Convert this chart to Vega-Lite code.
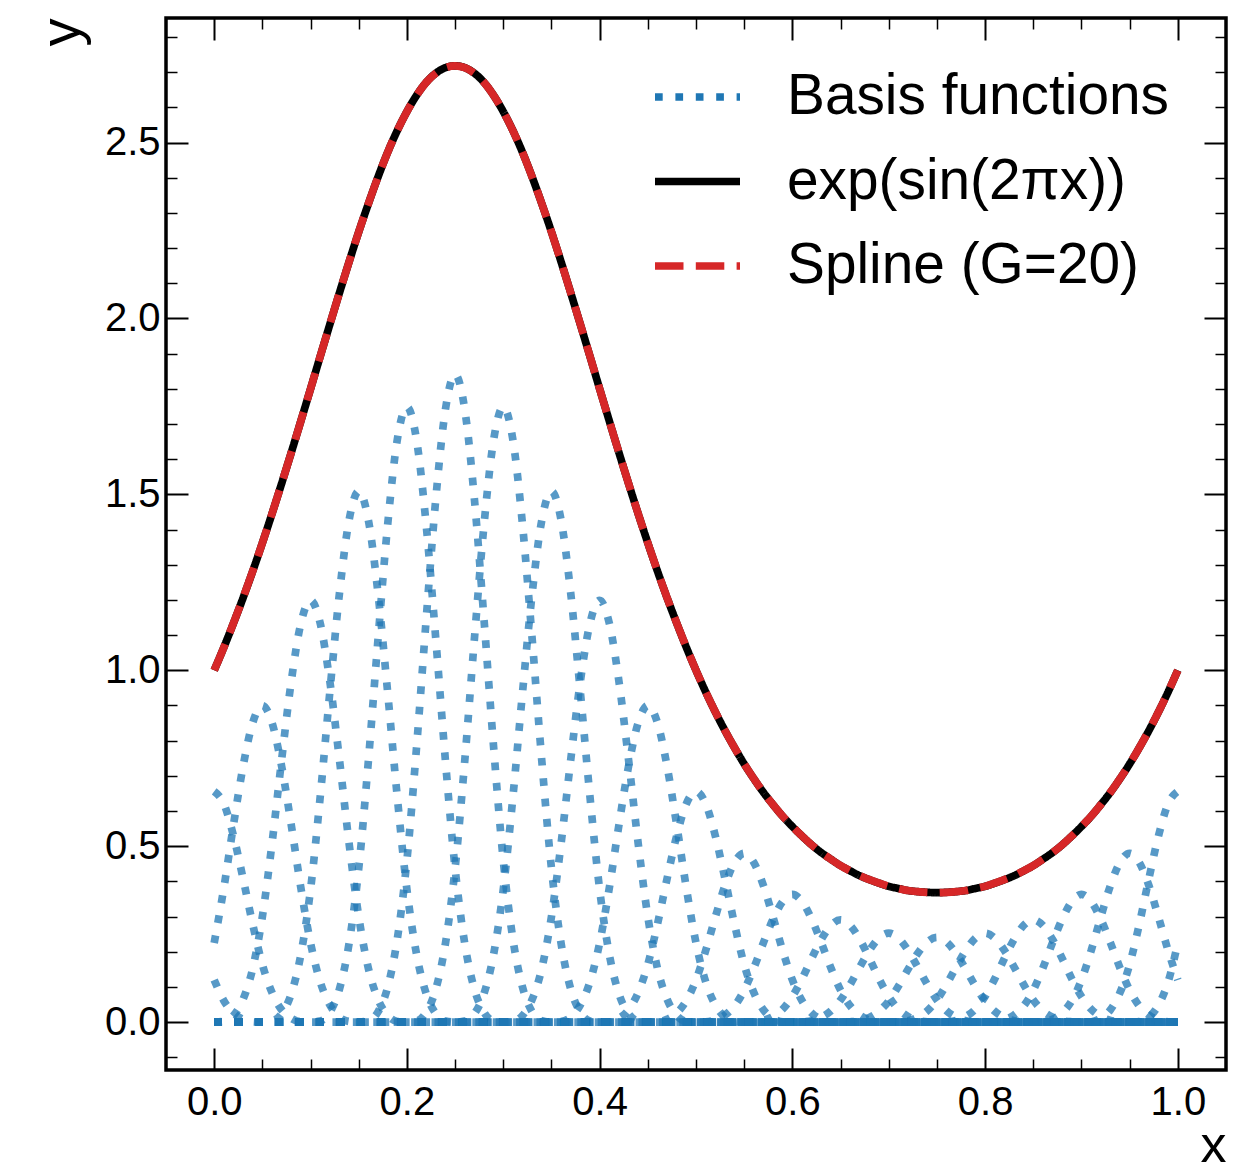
{
"$schema": "https://vega.github.io/schema/vega-lite/v6.json",
"width": 1060, "height": 1052,
"autosize": {"type": "none"},
"padding": {"left": 166, "top": 18, "right": 30, "bottom": 104},
"background": "white",
"config": {
  "font": "Liberation Sans",
  "view": {"stroke": "black", "strokeWidth": 3.5},
  "axis": {"grid": false, "domain": false, "tickColor": "black", "labelColor": "black", "titleColor": "black", "labelFont": "Liberation Sans", "titleFont": "Liberation Sans", "titleFontWeight": "normal", "labelFontSize": 40, "titleFontSize": 56, "labelFlush": false, "labelOverlap": false},
  "legend": {"labelFont": "Liberation Sans", "labelFontSize": 56.8, "labelColor": "black", "labelLimit": 0, "symbolSize": 7225, "symbolStrokeWidth": 7.7, "symbolType": "stroke", "labelOffset": 43, "rowPadding": 8.5, "padding": 0, "symbolOffset": 0}
},
"datasets": {
"basis": [
{"b":-1,"x":0,"y":0.120},{"b":-1,"x":0.01,"y":0.061},{"b":-1,"x":0.02,"y":0.026},{"b":-1,"x":0.03,"y":0.008},{"b":-1,"x":0.04,"y":0.001},{"b":-1,"x":0.05,"y":0},{"b":-1,"x":1,"y":0},
{"b":0,"x":0,"y":0.656},{"b":0,"x":0.01,"y":0.621},{"b":0,"x":0.02,"y":0.530},{"b":0,"x":0.03,"y":0.408},{"b":0,"x":0.04,"y":0.278},{"b":0,"x":0.05,"y":0.164},{"b":0,"x":0.06,"y":0.084},{"b":0,"x":0.07,"y":0.035},{"b":0,"x":0.08,"y":0.011},{"b":0,"x":0.09,"y":0.001},{"b":0,"x":0.1,"y":0},{"b":0,"x":1,"y":0},
{"b":1,"x":0,"y":0.225},{"b":1,"x":0.01,"y":0.381},{"b":1,"x":0.02,"y":0.560},{"b":1,"x":0.03,"y":0.727},{"b":1,"x":0.04,"y":0.851},{"b":1,"x":0.05,"y":0.900},{"b":1,"x":0.06,"y":0.851},{"b":1,"x":0.07,"y":0.727},{"b":1,"x":0.08,"y":0.560},{"b":1,"x":0.09,"y":0.381},{"b":1,"x":0.1,"y":0.225},{"b":1,"x":0.11,"y":0.115},{"b":1,"x":0.12,"y":0.049},{"b":1,"x":0.13,"y":0.014},{"b":1,"x":0.14,"y":0.002},{"b":1,"x":0.15,"y":0},{"b":1,"x":1,"y":0},
{"b":2,"x":0,"y":0},{"b":2,"x":0.01,"y":0.002},{"b":2,"x":0.02,"y":0.019},{"b":2,"x":0.03,"y":0.065},{"b":2,"x":0.04,"y":0.153},{"b":2,"x":0.05,"y":0.300},{"b":2,"x":0.06,"y":0.508},{"b":2,"x":0.07,"y":0.746},{"b":2,"x":0.08,"y":0.969},{"b":2,"x":0.09,"y":1.134},{"b":2,"x":0.1,"y":1.199},{"b":2,"x":0.11,"y":1.134},{"b":2,"x":0.12,"y":0.969},{"b":2,"x":0.13,"y":0.746},{"b":2,"x":0.14,"y":0.508},{"b":2,"x":0.15,"y":0.300},{"b":2,"x":0.16,"y":0.153},{"b":2,"x":0.17,"y":0.065},{"b":2,"x":0.18,"y":0.019},{"b":2,"x":0.19,"y":0.002},{"b":2,"x":0.2,"y":0},{"b":2,"x":1,"y":0},
{"b":3,"x":0,"y":0},{"b":3,"x":0.05,"y":0},{"b":3,"x":0.06,"y":0.003},{"b":3,"x":0.07,"y":0.024},{"b":3,"x":0.08,"y":0.081},{"b":3,"x":0.09,"y":0.193},{"b":3,"x":0.1,"y":0.377},{"b":3,"x":0.11,"y":0.640},{"b":3,"x":0.12,"y":0.938},{"b":3,"x":0.13,"y":1.219},{"b":3,"x":0.14,"y":1.427},{"b":3,"x":0.15,"y":1.509},{"b":3,"x":0.16,"y":1.427},{"b":3,"x":0.17,"y":1.219},{"b":3,"x":0.18,"y":0.938},{"b":3,"x":0.19,"y":0.640},{"b":3,"x":0.2,"y":0.377},{"b":3,"x":0.21,"y":0.193},{"b":3,"x":0.22,"y":0.081},{"b":3,"x":0.23,"y":0.024},{"b":3,"x":0.24,"y":0.003},{"b":3,"x":0.25,"y":0},{"b":3,"x":1,"y":0},
{"b":4,"x":0,"y":0},{"b":4,"x":0.1,"y":0},{"b":4,"x":0.11,"y":0.003},{"b":4,"x":0.12,"y":0.028},{"b":4,"x":0.13,"y":0.094},{"b":4,"x":0.14,"y":0.224},{"b":4,"x":0.15,"y":0.437},{"b":4,"x":0.16,"y":0.742},{"b":4,"x":0.17,"y":1.088},{"b":4,"x":0.18,"y":1.413},{"b":4,"x":0.19,"y":1.655},{"b":4,"x":0.2,"y":1.749},{"b":4,"x":0.21,"y":1.655},{"b":4,"x":0.22,"y":1.413},{"b":4,"x":0.23,"y":1.088},{"b":4,"x":0.24,"y":0.742},{"b":4,"x":0.25,"y":0.437},{"b":4,"x":0.26,"y":0.224},{"b":4,"x":0.27,"y":0.094},{"b":4,"x":0.28,"y":0.028},{"b":4,"x":0.29,"y":0.003},{"b":4,"x":0.3,"y":0},{"b":4,"x":1,"y":0},
{"b":5,"x":0,"y":0},{"b":5,"x":0.15,"y":0},{"b":5,"x":0.16,"y":0.004},{"b":5,"x":0.17,"y":0.029},{"b":5,"x":0.18,"y":0.099},{"b":5,"x":0.19,"y":0.236},{"b":5,"x":0.2,"y":0.460},{"b":5,"x":0.21,"y":0.781},{"b":5,"x":0.22,"y":1.145},{"b":5,"x":0.23,"y":1.488},{"b":5,"x":0.24,"y":1.742},{"b":5,"x":0.25,"y":1.841},{"b":5,"x":0.26,"y":1.742},{"b":5,"x":0.27,"y":1.488},{"b":5,"x":0.28,"y":1.145},{"b":5,"x":0.29,"y":0.781},{"b":5,"x":0.3,"y":0.460},{"b":5,"x":0.31,"y":0.236},{"b":5,"x":0.32,"y":0.099},{"b":5,"x":0.33,"y":0.029},{"b":5,"x":0.34,"y":0.004},{"b":5,"x":0.35,"y":0},{"b":5,"x":1,"y":0},
{"b":6,"x":0,"y":0},{"b":6,"x":0.2,"y":0},{"b":6,"x":0.21,"y":0.003},{"b":6,"x":0.22,"y":0.028},{"b":6,"x":0.23,"y":0.094},{"b":6,"x":0.24,"y":0.224},{"b":6,"x":0.25,"y":0.437},{"b":6,"x":0.26,"y":0.742},{"b":6,"x":0.27,"y":1.088},{"b":6,"x":0.28,"y":1.413},{"b":6,"x":0.29,"y":1.655},{"b":6,"x":0.3,"y":1.749},{"b":6,"x":0.31,"y":1.655},{"b":6,"x":0.32,"y":1.413},{"b":6,"x":0.33,"y":1.088},{"b":6,"x":0.34,"y":0.742},{"b":6,"x":0.35,"y":0.437},{"b":6,"x":0.36,"y":0.224},{"b":6,"x":0.37,"y":0.094},{"b":6,"x":0.38,"y":0.028},{"b":6,"x":0.39,"y":0.003},{"b":6,"x":0.4,"y":0},{"b":6,"x":1,"y":0},
{"b":7,"x":0,"y":0},{"b":7,"x":0.25,"y":0},{"b":7,"x":0.26,"y":0.003},{"b":7,"x":0.27,"y":0.024},{"b":7,"x":0.28,"y":0.081},{"b":7,"x":0.29,"y":0.193},{"b":7,"x":0.3,"y":0.377},{"b":7,"x":0.31,"y":0.640},{"b":7,"x":0.32,"y":0.938},{"b":7,"x":0.33,"y":1.219},{"b":7,"x":0.34,"y":1.427},{"b":7,"x":0.35,"y":1.509},{"b":7,"x":0.36,"y":1.427},{"b":7,"x":0.37,"y":1.219},{"b":7,"x":0.38,"y":0.938},{"b":7,"x":0.39,"y":0.640},{"b":7,"x":0.4,"y":0.377},{"b":7,"x":0.41,"y":0.193},{"b":7,"x":0.42,"y":0.081},{"b":7,"x":0.43,"y":0.024},{"b":7,"x":0.44,"y":0.003},{"b":7,"x":0.45,"y":0},{"b":7,"x":1,"y":0},
{"b":8,"x":0,"y":0},{"b":8,"x":0.3,"y":0},{"b":8,"x":0.31,"y":0.002},{"b":8,"x":0.32,"y":0.019},{"b":8,"x":0.33,"y":0.065},{"b":8,"x":0.34,"y":0.153},{"b":8,"x":0.35,"y":0.300},{"b":8,"x":0.36,"y":0.508},{"b":8,"x":0.37,"y":0.746},{"b":8,"x":0.38,"y":0.969},{"b":8,"x":0.39,"y":1.134},{"b":8,"x":0.4,"y":1.199},{"b":8,"x":0.41,"y":1.134},{"b":8,"x":0.42,"y":0.969},{"b":8,"x":0.43,"y":0.746},{"b":8,"x":0.44,"y":0.508},{"b":8,"x":0.45,"y":0.300},{"b":8,"x":0.46,"y":0.153},{"b":8,"x":0.47,"y":0.065},{"b":8,"x":0.48,"y":0.019},{"b":8,"x":0.49,"y":0.002},{"b":8,"x":0.5,"y":0},{"b":8,"x":1,"y":0},
{"b":9,"x":0,"y":0},{"b":9,"x":0.35,"y":0},{"b":9,"x":0.36,"y":0.002},{"b":9,"x":0.37,"y":0.014},{"b":9,"x":0.38,"y":0.049},{"b":9,"x":0.39,"y":0.115},{"b":9,"x":0.4,"y":0.225},{"b":9,"x":0.41,"y":0.381},{"b":9,"x":0.42,"y":0.560},{"b":9,"x":0.43,"y":0.727},{"b":9,"x":0.44,"y":0.851},{"b":9,"x":0.45,"y":0.900},{"b":9,"x":0.46,"y":0.851},{"b":9,"x":0.47,"y":0.727},{"b":9,"x":0.48,"y":0.560},{"b":9,"x":0.49,"y":0.381},{"b":9,"x":0.5,"y":0.225},{"b":9,"x":0.51,"y":0.115},{"b":9,"x":0.52,"y":0.049},{"b":9,"x":0.53,"y":0.014},{"b":9,"x":0.54,"y":0.002},{"b":9,"x":0.55,"y":0},{"b":9,"x":1,"y":0},
{"b":10,"x":0,"y":0},{"b":10,"x":0.4,"y":0},{"b":10,"x":0.41,"y":0.001},{"b":10,"x":0.42,"y":0.011},{"b":10,"x":0.43,"y":0.035},{"b":10,"x":0.44,"y":0.084},{"b":10,"x":0.45,"y":0.164},{"b":10,"x":0.46,"y":0.278},{"b":10,"x":0.47,"y":0.408},{"b":10,"x":0.48,"y":0.530},{"b":10,"x":0.49,"y":0.621},{"b":10,"x":0.5,"y":0.656},{"b":10,"x":0.51,"y":0.621},{"b":10,"x":0.52,"y":0.530},{"b":10,"x":0.53,"y":0.408},{"b":10,"x":0.54,"y":0.278},{"b":10,"x":0.55,"y":0.164},{"b":10,"x":0.56,"y":0.084},{"b":10,"x":0.57,"y":0.035},{"b":10,"x":0.58,"y":0.011},{"b":10,"x":0.59,"y":0.001},{"b":10,"x":0.6,"y":0},{"b":10,"x":1,"y":0},
{"b":11,"x":0,"y":0},{"b":11,"x":0.45,"y":0},{"b":11,"x":0.46,"y":0.001},{"b":11,"x":0.47,"y":0.008},{"b":11,"x":0.48,"y":0.026},{"b":11,"x":0.49,"y":0.061},{"b":11,"x":0.5,"y":0.120},{"b":11,"x":0.51,"y":0.203},{"b":11,"x":0.52,"y":0.298},{"b":11,"x":0.53,"y":0.388},{"b":11,"x":0.54,"y":0.454},{"b":11,"x":0.55,"y":0.480},{"b":11,"x":0.56,"y":0.454},{"b":11,"x":0.57,"y":0.388},{"b":11,"x":0.58,"y":0.298},{"b":11,"x":0.59,"y":0.203},{"b":11,"x":0.6,"y":0.120},{"b":11,"x":0.61,"y":0.061},{"b":11,"x":0.62,"y":0.026},{"b":11,"x":0.63,"y":0.008},{"b":11,"x":0.64,"y":0.001},{"b":11,"x":0.65,"y":0},{"b":11,"x":1,"y":0},
{"b":12,"x":0,"y":0},{"b":12,"x":0.5,"y":0},{"b":12,"x":0.51,"y":0.001},{"b":12,"x":0.52,"y":0.006},{"b":12,"x":0.53,"y":0.020},{"b":12,"x":0.54,"y":0.046},{"b":12,"x":0.55,"y":0.091},{"b":12,"x":0.56,"y":0.154},{"b":12,"x":0.57,"y":0.226},{"b":12,"x":0.58,"y":0.293},{"b":12,"x":0.59,"y":0.343},{"b":12,"x":0.6,"y":0.363},{"b":12,"x":0.61,"y":0.343},{"b":12,"x":0.62,"y":0.293},{"b":12,"x":0.63,"y":0.226},{"b":12,"x":0.64,"y":0.154},{"b":12,"x":0.65,"y":0.091},{"b":12,"x":0.66,"y":0.046},{"b":12,"x":0.67,"y":0.020},{"b":12,"x":0.68,"y":0.006},{"b":12,"x":0.69,"y":0.001},{"b":12,"x":0.7,"y":0},{"b":12,"x":1,"y":0},
{"b":13,"x":0,"y":0},{"b":13,"x":0.55,"y":0},{"b":13,"x":0.56,"y":0.001},{"b":13,"x":0.57,"y":0.005},{"b":13,"x":0.58,"y":0.016},{"b":13,"x":0.59,"y":0.037},{"b":13,"x":0.6,"y":0.073},{"b":13,"x":0.61,"y":0.123},{"b":13,"x":0.62,"y":0.181},{"b":13,"x":0.63,"y":0.235},{"b":13,"x":0.64,"y":0.275},{"b":13,"x":0.65,"y":0.291},{"b":13,"x":0.66,"y":0.275},{"b":13,"x":0.67,"y":0.235},{"b":13,"x":0.68,"y":0.181},{"b":13,"x":0.69,"y":0.123},{"b":13,"x":0.7,"y":0.073},{"b":13,"x":0.71,"y":0.037},{"b":13,"x":0.72,"y":0.016},{"b":13,"x":0.73,"y":0.005},{"b":13,"x":0.74,"y":0.001},{"b":13,"x":0.75,"y":0},{"b":13,"x":1,"y":0},
{"b":14,"x":0,"y":0},{"b":14,"x":0.6,"y":0},{"b":14,"x":0.61,"y":0.001},{"b":14,"x":0.62,"y":0.004},{"b":14,"x":0.63,"y":0.014},{"b":14,"x":0.64,"y":0.032},{"b":14,"x":0.65,"y":0.063},{"b":14,"x":0.66,"y":0.107},{"b":14,"x":0.67,"y":0.157},{"b":14,"x":0.68,"y":0.204},{"b":14,"x":0.69,"y":0.239},{"b":14,"x":0.7,"y":0.253},{"b":14,"x":0.71,"y":0.239},{"b":14,"x":0.72,"y":0.204},{"b":14,"x":0.73,"y":0.157},{"b":14,"x":0.74,"y":0.107},{"b":14,"x":0.75,"y":0.063},{"b":14,"x":0.76,"y":0.032},{"b":14,"x":0.77,"y":0.014},{"b":14,"x":0.78,"y":0.004},{"b":14,"x":0.79,"y":0.001},{"b":14,"x":0.8,"y":0},{"b":14,"x":1,"y":0},
{"b":15,"x":0,"y":0},{"b":15,"x":0.65,"y":0},{"b":15,"x":0.66,"y":0.001},{"b":15,"x":0.67,"y":0.004},{"b":15,"x":0.68,"y":0.013},{"b":15,"x":0.69,"y":0.031},{"b":15,"x":0.7,"y":0.060},{"b":15,"x":0.71,"y":0.102},{"b":15,"x":0.72,"y":0.150},{"b":15,"x":0.73,"y":0.195},{"b":15,"x":0.74,"y":0.228},{"b":15,"x":0.75,"y":0.241},{"b":15,"x":0.76,"y":0.228},{"b":15,"x":0.77,"y":0.195},{"b":15,"x":0.78,"y":0.150},{"b":15,"x":0.79,"y":0.102},{"b":15,"x":0.8,"y":0.060},{"b":15,"x":0.81,"y":0.031},{"b":15,"x":0.82,"y":0.013},{"b":15,"x":0.83,"y":0.004},{"b":15,"x":0.84,"y":0.001},{"b":15,"x":0.85,"y":0},{"b":15,"x":1,"y":0},
{"b":16,"x":0,"y":0},{"b":16,"x":0.7,"y":0},{"b":16,"x":0.71,"y":0.001},{"b":16,"x":0.72,"y":0.004},{"b":16,"x":0.73,"y":0.014},{"b":16,"x":0.74,"y":0.032},{"b":16,"x":0.75,"y":0.063},{"b":16,"x":0.76,"y":0.107},{"b":16,"x":0.77,"y":0.157},{"b":16,"x":0.78,"y":0.204},{"b":16,"x":0.79,"y":0.239},{"b":16,"x":0.8,"y":0.253},{"b":16,"x":0.81,"y":0.239},{"b":16,"x":0.82,"y":0.204},{"b":16,"x":0.83,"y":0.157},{"b":16,"x":0.84,"y":0.107},{"b":16,"x":0.85,"y":0.063},{"b":16,"x":0.86,"y":0.032},{"b":16,"x":0.87,"y":0.014},{"b":16,"x":0.88,"y":0.004},{"b":16,"x":0.89,"y":0.001},{"b":16,"x":0.9,"y":0},{"b":16,"x":1,"y":0},
{"b":17,"x":0,"y":0},{"b":17,"x":0.75,"y":0},{"b":17,"x":0.76,"y":0.001},{"b":17,"x":0.77,"y":0.005},{"b":17,"x":0.78,"y":0.016},{"b":17,"x":0.79,"y":0.037},{"b":17,"x":0.8,"y":0.073},{"b":17,"x":0.81,"y":0.123},{"b":17,"x":0.82,"y":0.181},{"b":17,"x":0.83,"y":0.235},{"b":17,"x":0.84,"y":0.275},{"b":17,"x":0.85,"y":0.291},{"b":17,"x":0.86,"y":0.275},{"b":17,"x":0.87,"y":0.235},{"b":17,"x":0.88,"y":0.181},{"b":17,"x":0.89,"y":0.123},{"b":17,"x":0.9,"y":0.073},{"b":17,"x":0.91,"y":0.037},{"b":17,"x":0.92,"y":0.016},{"b":17,"x":0.93,"y":0.005},{"b":17,"x":0.94,"y":0.001},{"b":17,"x":0.95,"y":0},{"b":17,"x":1,"y":0},
{"b":18,"x":0,"y":0},{"b":18,"x":0.8,"y":0},{"b":18,"x":0.81,"y":0.001},{"b":18,"x":0.82,"y":0.006},{"b":18,"x":0.83,"y":0.020},{"b":18,"x":0.84,"y":0.046},{"b":18,"x":0.85,"y":0.091},{"b":18,"x":0.86,"y":0.154},{"b":18,"x":0.87,"y":0.226},{"b":18,"x":0.88,"y":0.293},{"b":18,"x":0.89,"y":0.343},{"b":18,"x":0.9,"y":0.363},{"b":18,"x":0.91,"y":0.343},{"b":18,"x":0.92,"y":0.293},{"b":18,"x":0.93,"y":0.226},{"b":18,"x":0.94,"y":0.154},{"b":18,"x":0.95,"y":0.091},{"b":18,"x":0.96,"y":0.046},{"b":18,"x":0.97,"y":0.020},{"b":18,"x":0.98,"y":0.006},{"b":18,"x":0.99,"y":0.001},{"b":18,"x":1,"y":0},
{"b":19,"x":0,"y":0},{"b":19,"x":0.85,"y":0},{"b":19,"x":0.86,"y":0.001},{"b":19,"x":0.87,"y":0.008},{"b":19,"x":0.88,"y":0.026},{"b":19,"x":0.89,"y":0.061},{"b":19,"x":0.9,"y":0.120},{"b":19,"x":0.91,"y":0.203},{"b":19,"x":0.92,"y":0.298},{"b":19,"x":0.93,"y":0.388},{"b":19,"x":0.94,"y":0.454},{"b":19,"x":0.95,"y":0.480},{"b":19,"x":0.96,"y":0.454},{"b":19,"x":0.97,"y":0.388},{"b":19,"x":0.98,"y":0.298},{"b":19,"x":0.99,"y":0.203},{"b":19,"x":1,"y":0.120},
{"b":20,"x":0,"y":0},{"b":20,"x":0.9,"y":0},{"b":20,"x":0.91,"y":0.001},{"b":20,"x":0.92,"y":0.011},{"b":20,"x":0.93,"y":0.035},{"b":20,"x":0.94,"y":0.084},{"b":20,"x":0.95,"y":0.164},{"b":20,"x":0.96,"y":0.278},{"b":20,"x":0.97,"y":0.408},{"b":20,"x":0.98,"y":0.530},{"b":20,"x":0.99,"y":0.621},{"b":20,"x":1,"y":0.656},
{"b":21,"x":0,"y":0},{"b":21,"x":0.95,"y":0},{"b":21,"x":0.96,"y":0.002},{"b":21,"x":0.97,"y":0.014},{"b":21,"x":0.98,"y":0.049},{"b":21,"x":0.99,"y":0.115},{"b":21,"x":1,"y":0.225}
],
"curve": [
{"x":0,"y":1.000},{"x":0.01,"y":1.065},{"x":0.02,"y":1.134},{"x":0.03,"y":1.206},{"x":0.04,"y":1.282},{"x":0.05,"y":1.362},{"x":0.06,"y":1.445},{"x":0.07,"y":1.531},{"x":0.08,"y":1.619},{"x":0.09,"y":1.709},
{"x":0.1,"y":1.800},{"x":0.11,"y":1.892},{"x":0.12,"y":1.983},{"x":0.13,"y":2.073},{"x":0.14,"y":2.161},{"x":0.15,"y":2.246},{"x":0.16,"y":2.326},{"x":0.17,"y":2.402},{"x":0.18,"y":2.472},{"x":0.19,"y":2.534},
{"x":0.2,"y":2.588},{"x":0.21,"y":2.634},{"x":0.22,"y":2.671},{"x":0.23,"y":2.697},{"x":0.24,"y":2.713},{"x":0.25,"y":2.718},{"x":0.26,"y":2.713},{"x":0.27,"y":2.697},{"x":0.28,"y":2.671},{"x":0.29,"y":2.634},
{"x":0.3,"y":2.588},{"x":0.31,"y":2.534},{"x":0.32,"y":2.472},{"x":0.33,"y":2.402},{"x":0.34,"y":2.326},{"x":0.35,"y":2.246},{"x":0.36,"y":2.161},{"x":0.37,"y":2.073},{"x":0.38,"y":1.983},{"x":0.39,"y":1.892},
{"x":0.4,"y":1.800},{"x":0.41,"y":1.709},{"x":0.42,"y":1.619},{"x":0.43,"y":1.531},{"x":0.44,"y":1.445},{"x":0.45,"y":1.362},{"x":0.46,"y":1.282},{"x":0.47,"y":1.206},{"x":0.48,"y":1.134},{"x":0.49,"y":1.065},
{"x":0.5,"y":1.000},{"x":0.51,"y":0.939},{"x":0.52,"y":0.882},{"x":0.53,"y":0.829},{"x":0.54,"y":0.780},{"x":0.55,"y":0.734},{"x":0.56,"y":0.692},{"x":0.57,"y":0.653},{"x":0.58,"y":0.618},{"x":0.59,"y":0.585},
{"x":0.6,"y":0.556},{"x":0.61,"y":0.529},{"x":0.62,"y":0.504},{"x":0.63,"y":0.482},{"x":0.64,"y":0.463},{"x":0.65,"y":0.445},{"x":0.66,"y":0.430},{"x":0.67,"y":0.416},{"x":0.68,"y":0.405},{"x":0.69,"y":0.395},
{"x":0.7,"y":0.386},{"x":0.71,"y":0.380},{"x":0.72,"y":0.374},{"x":0.73,"y":0.371},{"x":0.74,"y":0.369},{"x":0.75,"y":0.368},{"x":0.76,"y":0.369},{"x":0.77,"y":0.371},{"x":0.78,"y":0.374},{"x":0.79,"y":0.380},
{"x":0.8,"y":0.386},{"x":0.81,"y":0.395},{"x":0.82,"y":0.405},{"x":0.83,"y":0.416},{"x":0.84,"y":0.430},{"x":0.85,"y":0.445},{"x":0.86,"y":0.463},{"x":0.87,"y":0.482},{"x":0.88,"y":0.504},{"x":0.89,"y":0.529},
{"x":0.9,"y":0.556},{"x":0.91,"y":0.585},{"x":0.92,"y":0.618},{"x":0.93,"y":0.653},{"x":0.94,"y":0.692},{"x":0.95,"y":0.734},{"x":0.96,"y":0.780},{"x":0.97,"y":0.829},{"x":0.98,"y":0.882},{"x":0.99,"y":0.939},
{"x":1,"y":1.000}
]
},
"resolve": {"axis": {"x": "independent", "y": "independent"}},
"layer": [
{
  "data": {"name": "basis"},
  "mark": {"type": "line", "strokeWidth": 7.7, "strokeOpacity": 0.75, "interpolate": "monotone", "strokeCap": "butt"},
  "encoding": {
    "x": {"field": "x", "type": "quantitative", "scale": {"domain": [-0.05, 1.05], "nice": false, "zero": false},
          "axis": {"orient": "bottom", "values": [0, 0.2, 0.4, 0.6, 0.8, 1], "format": ".1f", "tickSize": -22, "tickWidth": 2, "labelPadding": 34, "title": "x", "titleFontSize": 52, "titleAnchor": "end", "titleAlign": "right", "titlePadding": -2}},
    "y": {"field": "y", "type": "quantitative", "scale": {"domain": [-0.136, 2.854], "nice": false, "zero": false},
          "axis": {"orient": "left", "values": [0, 0.5, 1, 1.5, 2, 2.5], "format": ".1f", "tickSize": -22, "tickWidth": 2, "labelPadding": 28, "title": "y", "titleAnchor": "end", "titleAlign": "right", "titlePadding": 14}},
    "detail": {"field": "b", "type": "nominal"},
    "color": {"datum": "Basis functions", "type": "nominal", "scale": {"domain": ["Basis functions", "exp(sin(2πx))", "Spline (G=20)"], "range": ["#1f77b4", "#000000", "#d62728"]}, "legend": {"title": null, "orient": "none", "legendX": 485, "legendY": 32.5, "rowPadding": 8.5}},
    "strokeDash": {"datum": "Basis functions", "type": "nominal", "scale": {"domain": ["Basis functions", "exp(sin(2πx))", "Spline (G=20)"], "range": [[7.7, 12.7], [1, 0], [28.5, 12.3]]}, "legend": {"title": null, "orient": "none", "legendX": 485, "legendY": 32.5, "rowPadding": 8.5}}
  }
},
{
  "data": {"name": "curve"},
  "mark": {"type": "line", "strokeWidth": 7.7, "interpolate": "monotone"},
  "encoding": {
    "x": {"field": "x", "type": "quantitative", "scale": {"domain": [-0.05, 1.05], "nice": false, "zero": false},
          "axis": {"orient": "bottom", "values": [0.05, 0.1, 0.15, 0.25, 0.3, 0.35, 0.45, 0.5, 0.55, 0.65, 0.7, 0.75, 0.85, 0.9, 0.95], "labels": false, "tickSize": -11, "tickWidth": 1.5, "title": null}},
    "y": {"field": "y", "type": "quantitative", "scale": {"domain": [-0.136, 2.854], "nice": false, "zero": false},
          "axis": {"orient": "left", "values": [-0.1, 0.1, 0.2, 0.3, 0.4, 0.6, 0.7, 0.8, 0.9, 1.1, 1.2, 1.3, 1.4, 1.6, 1.7, 1.8, 1.9, 2.1, 2.2, 2.3, 2.4, 2.6, 2.7, 2.8], "labels": false, "tickSize": -11, "tickWidth": 1.5, "title": null}},
    "color": {"datum": "exp(sin(2πx))", "type": "nominal", "scale": {"domain": ["Basis functions", "exp(sin(2πx))", "Spline (G=20)"], "range": ["#1f77b4", "#000000", "#d62728"]}, "legend": {"title": null, "orient": "none", "legendX": 485, "legendY": 32.5, "rowPadding": 8.5}},
    "strokeDash": {"datum": "exp(sin(2πx))", "type": "nominal", "scale": {"domain": ["Basis functions", "exp(sin(2πx))", "Spline (G=20)"], "range": [[7.7, 12.7], [1, 0], [28.5, 12.3]]}, "legend": {"title": null, "orient": "none", "legendX": 485, "legendY": 32.5, "rowPadding": 8.5}}
  }
},
{
  "data": {"name": "curve"},
  "mark": {"type": "line", "strokeWidth": 7.7, "interpolate": "monotone", "strokeCap": "butt"},
  "encoding": {
    "x": {"field": "x", "type": "quantitative", "scale": {"domain": [-0.05, 1.05], "nice": false, "zero": false},
          "axis": {"orient": "top", "values": [0, 0.2, 0.4, 0.6, 0.8, 1], "labels": false, "tickSize": -22, "tickWidth": 2, "title": null}},
    "y": {"field": "y", "type": "quantitative", "scale": {"domain": [-0.136, 2.854], "nice": false, "zero": false},
          "axis": {"orient": "right", "values": [0, 0.5, 1, 1.5, 2, 2.5], "labels": false, "tickSize": -22, "tickWidth": 2, "title": null}},
    "color": {"datum": "Spline (G=20)", "type": "nominal", "scale": {"domain": ["Basis functions", "exp(sin(2πx))", "Spline (G=20)"], "range": ["#1f77b4", "#000000", "#d62728"]}, "legend": {"title": null, "orient": "none", "legendX": 485, "legendY": 32.5, "rowPadding": 8.5}},
    "strokeDash": {"datum": "Spline (G=20)", "type": "nominal", "scale": {"domain": ["Basis functions", "exp(sin(2πx))", "Spline (G=20)"], "range": [[7.7, 12.7], [1, 0], [28.5, 12.3]]}, "legend": {"title": null, "orient": "none", "legendX": 485, "legendY": 32.5, "rowPadding": 8.5}}
  }
},
{
  "data": {"name": "curve"},
  "mark": {"type": "line", "strokeOpacity": 0, "strokeWidth": 1},
  "encoding": {
    "x": {"field": "x", "type": "quantitative", "scale": {"domain": [-0.05, 1.05], "nice": false, "zero": false},
          "axis": {"orient": "top", "values": [0.05, 0.1, 0.15, 0.25, 0.3, 0.35, 0.45, 0.5, 0.55, 0.65, 0.7, 0.75, 0.85, 0.9, 0.95], "labels": false, "tickSize": -11, "tickWidth": 1.5, "title": null}},
    "y": {"field": "y", "type": "quantitative", "scale": {"domain": [-0.136, 2.854], "nice": false, "zero": false},
          "axis": {"orient": "right", "values": [-0.1, 0.1, 0.2, 0.3, 0.4, 0.6, 0.7, 0.8, 0.9, 1.1, 1.2, 1.3, 1.4, 1.6, 1.7, 1.8, 1.9, 2.1, 2.2, 2.3, 2.4, 2.6, 2.7, 2.8], "labels": false, "tickSize": -11, "tickWidth": 1.5, "title": null}}
  }
}
]
}
